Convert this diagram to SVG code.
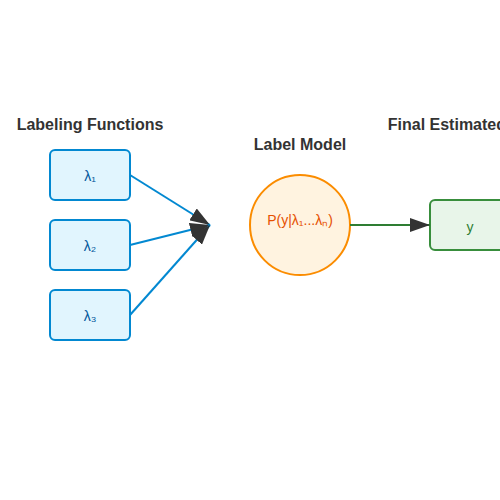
<svg xmlns="http://www.w3.org/2000/svg" width="500" height="500" viewBox="0 0 500 500">
<defs>
<marker id="arrow" markerWidth="10" markerHeight="7" refX="10" refY="3.5" orient="auto">
<polygon points="0 0, 10 3.5, 0 7" fill="#333"/>
</marker>
</defs>
<style>
.title{font-family:"Liberation Sans",Arial,sans-serif;font-size:16px;font-weight:bold;fill:#333;text-anchor:middle}
.lf rect{fill:#e1f5fe;stroke:#0288d1;stroke-width:2}
.lf text{font-family:"Liberation Sans",Arial,sans-serif;font-size:14px;fill:#01579b;text-anchor:middle}
.lfline{stroke:#0288d1;stroke-width:2;fill:none}
</style>
<rect width="500" height="500" fill="#fff"/>
<text class="title" x="90" y="130">Labeling Functions</text>
<text class="title" x="300" y="150">Label Model</text>
<text class="title" x="470" y="130">Final Estimated Label</text>
<g id="lf1" class="lf"><rect x="50" y="150" width="80" height="50" rx="5"/><text x="90" y="181">λ₁</text></g>
<g id="lf2" class="lf"><rect x="50" y="220" width="80" height="50" rx="5"/><text x="90" y="251">λ₂</text></g>
<g id="lf3" class="lf"><rect x="50" y="290" width="80" height="50" rx="5"/><text x="90" y="321">λ₃</text></g>
<g id="model"><circle cx="300" cy="225" r="50" fill="#fff3e0" stroke="#fb8c00" stroke-width="2"/><text x="300" y="225" font-family="Liberation Sans,Arial,sans-serif" font-size="14" fill="#e65100" text-anchor="middle">P(y|λ₁...λₙ)</text></g>
<g id="output"><rect x="430" y="200" width="80" height="50" rx="5" fill="#e8f5e9" stroke="#388e3c" stroke-width="2"/><text x="470" y="232" font-family="Liberation Sans,Arial,sans-serif" font-size="14" fill="#2e7d32" text-anchor="middle">y</text></g>
<g id="connectors">
<line class="lfline" x1="130" y1="175" x2="210" y2="225" marker-end="url(#arrow)"/>
<line class="lfline" x1="130" y1="245" x2="210" y2="225" marker-end="url(#arrow)"/>
<line class="lfline" x1="130" y1="315" x2="210" y2="225" marker-end="url(#arrow)"/>
<line x1="350" y1="225" x2="430" y2="225" stroke="#2e7d32" stroke-width="2" marker-end="url(#arrow)"/>
</g>
</svg>
